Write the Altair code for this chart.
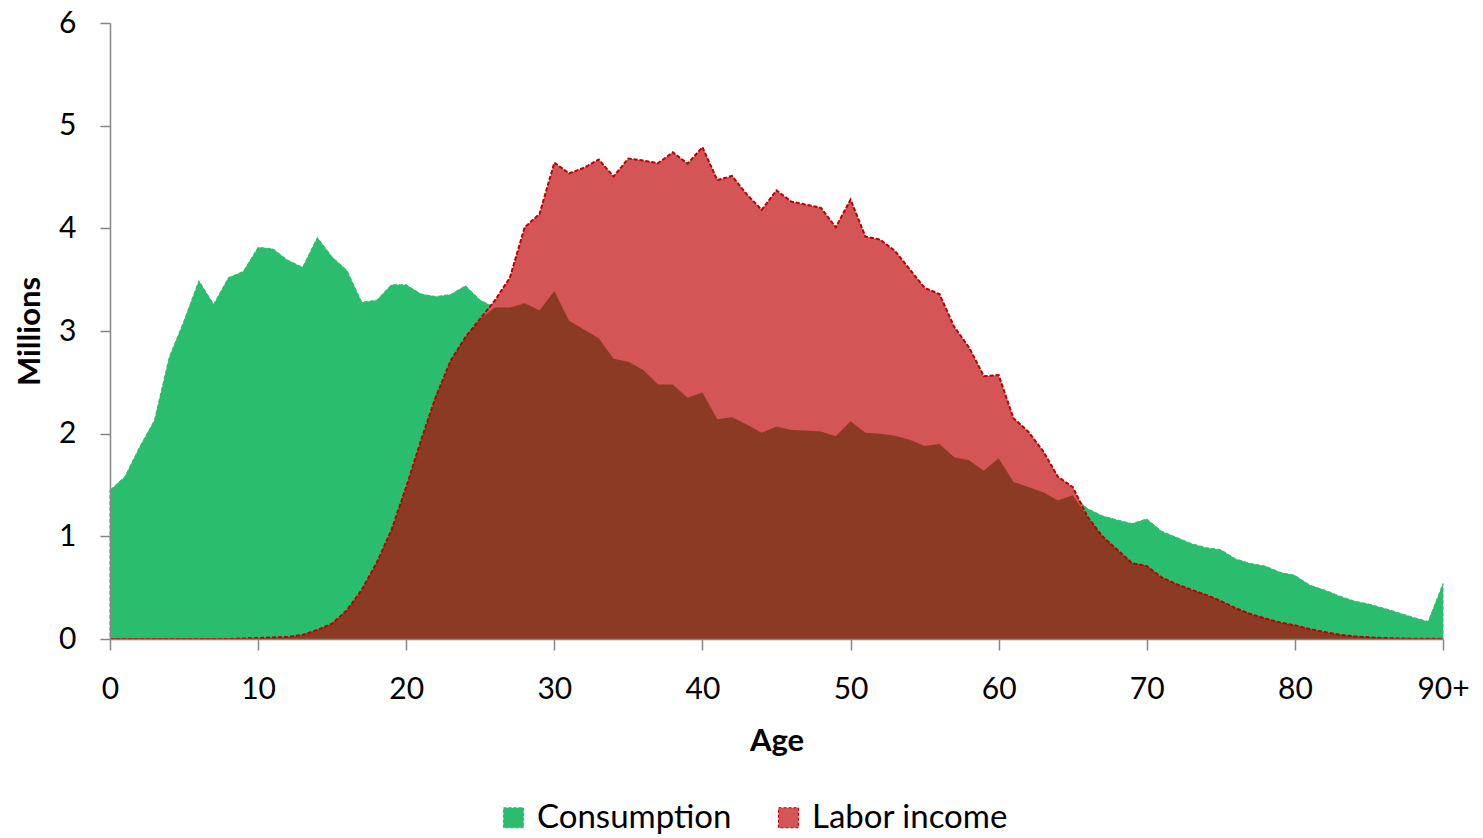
import altair as alt
import pandas as pd

ages = list(range(91))
consumption = [
    1.45, 1.58, 1.87, 2.13, 2.745, 3.10, 3.49, 3.26, 3.52, 3.58,
    3.815, 3.80, 3.69, 3.62, 3.91, 3.72, 3.59, 3.28, 3.30, 3.45,
    3.45, 3.36, 3.335, 3.355, 3.44, 3.30, 3.23, 3.23, 3.27, 3.20,
    3.39, 3.10, 3.015, 2.93, 2.73, 2.70, 2.62, 2.48, 2.48, 2.35,
    2.40, 2.14, 2.16, 2.09, 2.01, 2.07, 2.035, 2.03, 2.02, 1.975,
    2.12, 2.01, 2.00, 1.98, 1.94, 1.88, 1.90, 1.77, 1.74, 1.64,
    1.76, 1.53, 1.48, 1.43, 1.35, 1.40, 1.27, 1.20, 1.16, 1.125,
    1.17, 1.05, 0.99, 0.93, 0.89, 0.87, 0.78, 0.736, 0.71, 0.65,
    0.62, 0.525, 0.477, 0.42, 0.37, 0.34, 0.30, 0.256, 0.21, 0.17,
    0.54,
]
labor_income = [
    0.0, 0.0, 0.0, 0.0, 0.0, 0.0, 0.0, 0.0, 0.0, 0.005,
    0.01, 0.015, 0.02, 0.04, 0.088, 0.15, 0.28, 0.48, 0.74, 1.06,
    1.48, 1.935, 2.36, 2.71, 2.94, 3.12, 3.30, 3.52, 4.01, 4.14,
    4.64, 4.535, 4.59, 4.67, 4.505, 4.68, 4.66, 4.635, 4.74, 4.63,
    4.79, 4.47, 4.51, 4.33, 4.18, 4.37, 4.26, 4.23, 4.20, 4.01,
    4.28, 3.92, 3.89, 3.78, 3.60, 3.42, 3.36, 3.04, 2.84, 2.56,
    2.57, 2.15, 2.02, 1.83, 1.58, 1.48, 1.19, 1.00, 0.87, 0.74,
    0.71, 0.60, 0.535, 0.48, 0.43, 0.37, 0.30, 0.243, 0.20, 0.16,
    0.133, 0.097, 0.068, 0.042, 0.026, 0.016, 0.01, 0.005, 0.003, 0.002,
    0.001,
]
series_names = ["Consumption", "Labor income"]
x_ticks = [0, 10, 20, 30, 40, 50, 60, 70, 80, 90]
y_ticks = [0, 1, 2, 3, 4, 5, 6]

GREEN = "#2BBD6E"
RED = "#D45555"
BROWN = "#8B3B23"
DARKRED = "#C00000"
GRAY = "#868686"
FONT = "Lato"

df = pd.DataFrame({"age": ages, "Consumption": consumption, "Labor income": labor_income})

x_enc = alt.X(
    "age:Q",
    scale=alt.Scale(domain=[0, 90], nice=False, zero=True),
    axis=alt.Axis(
        values=x_ticks,
        title="Age",
        labelExpr="datum.value == 90 ? '90+' : datum.label",
        labelFlush=False,
        labelFont=FONT, labelFontSize=30, labelColor="#000000",
        labelPadding=24, tickSize=11, tickColor=GRAY, tickWidth=1.5,
        domainColor=GRAY, domainWidth=1.5, grid=False,
        titleFont=FONT, titleFontSize=31, titleFontWeight="bold",
        titleColor="#000000", titlePadding=22, zindex=1,
    ),
)
y_scale = alt.Scale(domain=[0, 6], nice=False)
y_axis = alt.Axis(
    values=y_ticks, title="Millions", format="d",
    labelFlush=False,
    labelFont=FONT, labelFontSize=30, labelColor="#000000",
    labelPadding=24, tickSize=10, tickColor=GRAY, tickWidth=1.5,
    domainColor=GRAY, domainWidth=1.5, grid=False,
    titleFont=FONT, titleFontSize=31, titleFontWeight="bold",
    titleColor="#000000", titlePadding=12, zindex=1,
)

legend = alt.Legend(
    title=None, orient="none", legendX=387, legendY=778, direction="horizontal",
    symbolType="square", symbolSize=400, symbolStrokeWidth=1.2, symbolDash=[3, 2],
    labelFont=FONT, labelFontSize=33, labelColor="#000000", labelOffset=7,
    labelLimit=400, columnPadding=40, symbolOpacity=1,
)

base = alt.Chart(df)

areas = base.transform_fold(series_names, as_=["series", "value"]).mark_area(
    strokeWidth=1, strokeDash=[4, 2], opacity=1
).encode(
    x=x_enc,
    y=alt.Y("value:Q", stack=None, scale=y_scale, axis=y_axis),
    fill=alt.Fill("series:N", scale=alt.Scale(domain=series_names, range=[GREEN, RED]), legend=legend),
    stroke=alt.Stroke("series:N", scale=alt.Scale(domain=series_names, range=[GREEN, DARKRED]), legend=legend),
)

overlap = base.transform_calculate(
    overlap="min(datum['Consumption'], datum['Labor income'])"
).mark_area(color=BROWN, opacity=1).encode(
    x="age:Q",
    y=alt.Y("overlap:Q", scale=y_scale),
)

labor_line = base.mark_line(color=DARKRED, strokeWidth=2, strokeDash=[4, 2]).encode(
    x="age:Q",
    y=alt.Y("Labor income:Q", scale=y_scale),
)

chart = alt.layer(areas, overlap, labor_line).properties(
    width=1333, height=616,
    autosize=alt.AutoSizeParams(type="none"),
    padding={"left": 102, "top": 15, "right": 30, "bottom": 199},
).configure_view(stroke=None)

chart.save("out.html", embed_options={"renderer": "svg", "actions": False})
